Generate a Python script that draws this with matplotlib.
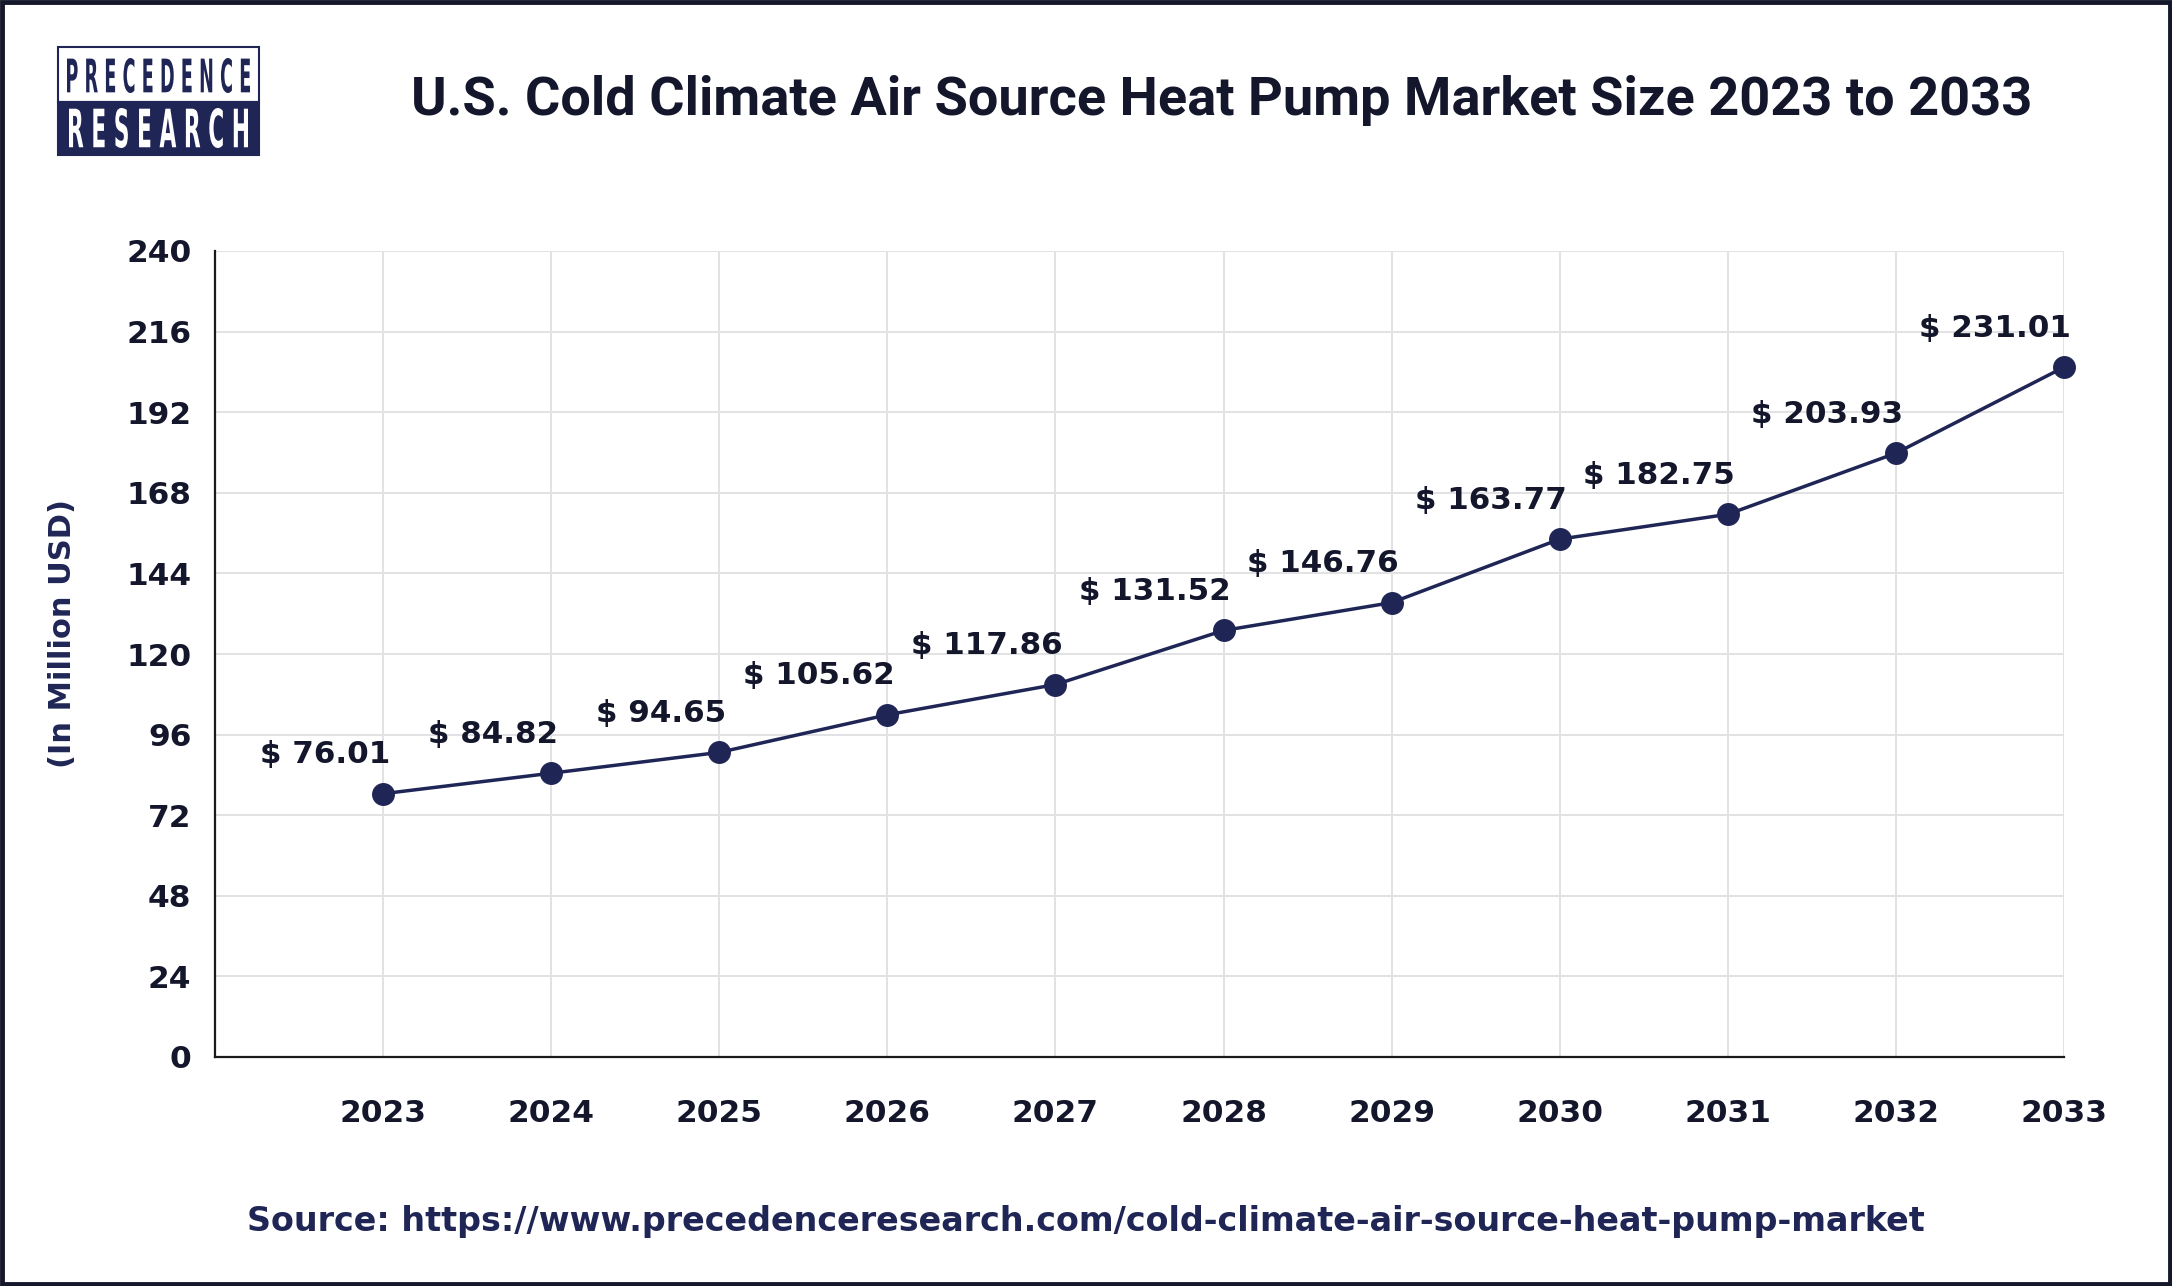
import matplotlib
matplotlib.use("Agg")
import matplotlib.pyplot as plt
from matplotlib.patches import Rectangle, PathPatch
from matplotlib.textpath import TextPath
from matplotlib.font_manager import FontProperties
from matplotlib.transforms import Affine2D

years = [2023, 2024, 2025, 2026, 2027, 2028, 2029, 2030, 2031, 2032, 2033]
# point heights as drawn in the picture (they sit below the printed labels)
point_values = [78.4, 84.5, 90.7, 101.9, 110.9, 127.0, 135.3, 154.2, 161.6, 179.8, 205.4]
label_values = [76.01, 84.82, 94.65, 105.62, 117.86, 131.52, 146.76, 163.77, 182.75, 203.93, 231.01]
y_ticks = [0, 24, 48, 72, 96, 120, 144, 168, 192, 216, 240]

title = "U.S. Cold Climate Air Source Heat Pump Market Size 2023 to 2033"
source = "Source: https://www.precedenceresearch.com/cold-climate-air-source-heat-pump-market"

navy = "#1f2656"
dark = "#14172b"

W, H = 2172, 1286
fig = plt.figure(figsize=(W / 100, H / 100), dpi=100)
fig.patch.set_facecolor("white")

ax = fig.add_axes([215 / W, 1 - 1057 / H, (2064 - 215) / W, (1057 - 251) / H])
ax.plot(years, point_values, color=navy, lw=2.5, marker="o", ms=15.5,
        markerfacecolor=navy, markeredgecolor=navy, zorder=3, clip_on=False)

for x, y, v in zip(years, point_values, label_values):
    ax.annotate(f"$ {v:.2f}", (x, y), xytext=(5, 28), textcoords="offset points",
                ha="right", va="center", fontsize=22.3, fontweight="bold",
                color=dark, family="DejaVu Sans")

ax.set_xlim(2022, 2033)
ax.set_ylim(0, 240)
ax.set_xticks(years)
ax.set_yticks(y_ticks)
ax.tick_params(axis="both", length=0, labelsize=22.5, colors="black")
ax.tick_params(axis="x", pad=30)
ax.tick_params(axis="y", pad=17)
for lbl in ax.get_xticklabels() + ax.get_yticklabels():
    lbl.set_fontweight("bold")
    lbl.set_color(dark)
ax.grid(True, color="#e2e2e5", lw=1.4)
ax.set_axisbelow(True)
for s in ["top", "right"]:
    ax.spines[s].set_visible(False)
for s in ["left", "bottom"]:
    ax.spines[s].set_color("#1a1a1a")
    ax.spines[s].set_linewidth(1.6)

fig.text(63 / W, 1 - 634 / H, "(In Million USD)", rotation=90, ha="center", va="center",
         fontsize=22, fontweight="bold", color=navy)

fig.text(1222 / W, 1 - 100 / H, title, ha="center", va="center",
         fontsize=39, fontweight="bold", color=dark, family="Roboto")

fig.text(1086 / W, 1 - 1221 / H, source, ha="center", va="center",
         fontsize=24, fontweight="bold", color=navy)

# overlay for logo and frame, in pixel units
ov = fig.add_axes([0, 0, 1, 1], zorder=5)
ov.set_xlim(0, W)
ov.set_ylim(0, H)
ov.axis("off")
ov.patch.set_alpha(0)

ov.add_patch(Rectangle((2, 2), W - 4, H - 4, fill=False, ec="#15182a", lw=3.5))

# logo box
lx0, lx1 = 58, 259
ytop, ymid, ybot = H - 47, H - 102, H - 155
ov.add_patch(Rectangle((lx0, ymid), lx1 - lx0, ytop - ymid, fc="white", ec=navy, lw=1.5))
ov.add_patch(Rectangle((lx0, ybot), lx1 - lx0, ymid - ybot, fc=navy, ec=navy, lw=1.5))


def squeezed(s, x0, y0, w, h, color):
    tp = TextPath((0, 0), s, size=1, prop=FontProperties(family="DejaVu Sans", weight="bold"))
    bb = tp.get_extents()
    tr = Affine2D().translate(-bb.x0, -bb.y0).scale(w / bb.width, h / bb.height).translate(x0, y0)
    ov.add_patch(PathPatch(tr.transform_path(tp), fc=color, ec="none"))


squeezed("P R E C E D E N C E", 67, H - 93, 183, 35, navy)
squeezed("R E S E A R C H", 69, H - 148, 179, 40, "white")

fig.savefig("out.png", dpi=100, facecolor="white")
